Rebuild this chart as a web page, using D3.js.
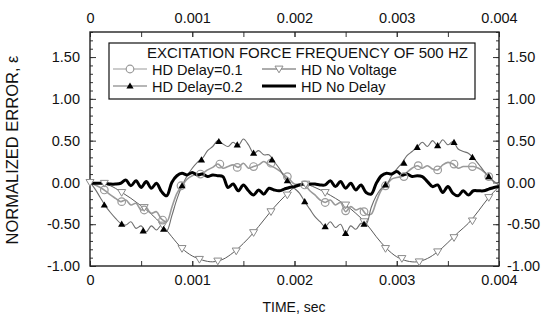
<!DOCTYPE html>
<html><head><meta charset="utf-8">
<script src="https://cdn.jsdelivr.net/npm/d3@7"></script>
<style>
html,body{margin:0;padding:0;background:#fff;}
svg{display:block;font-family:"Liberation Sans",Arial,sans-serif;}
</style></head>
<body><svg id="c" width="542" height="320"></svg>
<script>
// ---------- data (time in seconds, error values) ----------
const xTickValues = [0, 0.001, 0.002, 0.003, 0.004];
const xTickLabels = ["0", "0.001", "0.002", "0.003", "0.004"];
const yTickValues = [-1, -0.5, 0, 0.5, 1, 1.5];
const yTickLabels = ["-1.00", "-0.50", "0.00", "0.50", "1.00", "1.50"];

// fine time grid, 0.05 ms step (81 points)
const timeFine = d3.range(0, 81).map(i => i * 0.00005);
// coarse time grid, 0.1 ms step (41 points)
const timeCoarse = d3.range(0, 41).map(i => i * 0.0001);

const noDelay = [-0.01,-0.01,-0.01,-0.01,-0.02,-0.02,-0.01,0.03,-0.04,0.02,-0.06,0.01,-0.07,-0.01,-0.11,-0.16,0.00,0.08,0.11,0.09,0.12,0.09,0.10,0.07,0.09,0.08,0.07,-0.06,-0.02,-0.10,-0.03,-0.10,-0.15,-0.09,-0.14,-0.07,-0.09,-0.10,-0.08,-0.06,-0.05,
  -0.03,-0.02,-0.02,-0.02,-0.03,-0.03,0.02,-0.05,0.01,-0.07,-0.01,-0.09,-0.03,-0.12,-0.14,-0.01,0.08,0.11,0.10,0.13,0.09,0.10,0.07,0.08,0.07,0.01,-0.05,-0.03,-0.12,-0.05,-0.13,-0.16,-0.10,-0.15,-0.10,-0.10,-0.10,-0.08,-0.06,-0.05];

const delay02 = [0.00,-0.08,-0.18,-0.28,-0.36,-0.43,-0.49,-0.51,-0.47,-0.55,-0.52,-0.59,-0.52,-0.57,-0.51,-0.58,-0.40,-0.20,-0.04,0.08,0.17,0.24,0.29,0.38,0.43,0.50,0.46,0.43,0.48,0.44,0.52,0.45,0.35,0.38,0.33,0.33,0.25,0.17,0.07,0.00,-0.07,
  -0.13,-0.23,-0.32,-0.41,-0.47,-0.53,-0.47,-0.54,-0.50,-0.61,-0.52,-0.56,-0.49,-0.50,-0.30,-0.16,-0.07,-0.03,0.08,0.16,0.23,0.32,0.37,0.42,0.48,0.43,0.50,0.44,0.51,0.45,0.49,0.40,0.37,0.35,0.29,0.22,0.14,0.07,0.01,-0.03];

const delay01 = [0.00,-0.03,-0.06,-0.10,-0.15,-0.19,-0.23,-0.21,-0.27,-0.25,-0.33,-0.31,-0.37,-0.35,-0.44,-0.47,-0.30,-0.13,-0.04,0.04,0.08,0.10,0.11,0.15,0.18,0.22,0.17,0.19,0.21,0.18,0.23,0.17,0.19,0.21,0.25,0.21,0.18,0.14,0.09,0.04,-0.02,
  -0.02,-0.03,-0.10,-0.15,-0.21,-0.24,-0.21,-0.27,-0.24,-0.35,-0.29,-0.33,-0.31,-0.38,-0.38,-0.23,-0.09,-0.03,0.04,0.06,0.07,0.12,0.17,0.20,0.17,0.20,0.16,0.15,0.21,0.24,0.22,0.17,0.19,0.19,0.19,0.17,0.13,0.07,0.01,-0.02];

const noVoltage = [0.00,-0.01,-0.04,-0.11,-0.19,-0.28,-0.38,-0.50,-0.65,-0.79,-0.88,-0.93,-0.95,-0.92,-0.84,-0.73,-0.60,-0.45,-0.30,-0.17,-0.06,
  -0.02,-0.06,-0.12,-0.19,-0.27,-0.37,-0.49,-0.65,-0.79,-0.89,-0.94,-0.95,-0.91,-0.83,-0.72,-0.60,-0.49,-0.34,-0.18,-0.05];

// marker positions (ms) and values
const markT01 = [0.14,0.31,0.53,0.71,0.89,1.08,1.27,1.44,1.60,1.77,1.93,2.10,2.30,2.50,2.68,2.89,3.07,3.21,3.40,3.56,3.74,3.90];
const markV01 = [-0.09,-0.23,-0.33,-0.45,-0.04,0.10,0.22,0.18,0.19,0.23,0.07,-0.03,-0.24,-0.34,-0.35,-0.04,0.07,0.20,0.15,0.22,0.19,0.07];
const markT02 = [0.14,0.31,0.52,0.72,0.90,1.09,1.26,1.44,1.60,1.78,1.93,2.10,2.30,2.50,2.68,2.89,3.07,3.20,3.40,3.56,3.74,3.90];
const markV02 = [-0.27,-0.50,-0.58,-0.56,-0.04,0.27,0.49,0.45,0.35,0.27,0.02,-0.23,-0.53,-0.61,-0.50,-0.03,0.23,0.42,0.44,0.48,0.30,0.07];
const markTNV = [0,0.14,0.31,0.53,0.71,0.90,1.07,1.25,1.43,1.60,1.77,1.93,2.11,2.30,2.50,2.68,2.89,3.05,3.22,3.40,3.56,3.74,3.90];
const markVNV = [0,-0.01,-0.12,-0.30,-0.51,-0.79,-0.92,-0.94,-0.82,-0.60,-0.35,-0.15,-0.02,-0.12,-0.27,-0.47,-0.79,-0.91,-0.95,-0.83,-0.66,-0.46,-0.18];

const legendTitle = "EXCITATION FORCE FREQUENCY OF 500 HZ";
const seriesNames = ["HD Delay=0.1", "HD Delay=0.2", "HD No Voltage", "HD No Delay"];

// ---------- drawing ----------
const svg = d3.select("#c");
const FONT = '"Liberation Sans", Arial, sans-serif';
const x = d3.scaleLinear().domain([0, 0.004]).range([90, 499]);
const y = d3.scaleLinear().domain([-1, 1.8]).range([266, 32]);

// axes
function styleAxis(g) {
  g.select(".domain").remove();
  g.selectAll("line").attr("stroke", "#333").attr("stroke-width", 1);
  g.selectAll("text").attr("font-family", FONT).attr("font-size", 14.5).attr("fill", "#111");
}
const xMinor = d3.range(0, 9).map(i => i * 0.0005);
const yMinor = d3.range(-10, 19).map(i => i / 10);

svg.append("g").attr("transform", "translate(0,266)")
  .call(d3.axisBottom(x).tickValues(xMinor).tickSize(-5).tickFormat(""))
  .call(styleAxis);
svg.append("g").attr("transform", "translate(0,266)")
  .call(d3.axisBottom(x).tickValues(xTickValues).tickSize(-5).tickPadding(9)
    .tickFormat((d, i) => xTickLabels[i]))
  .call(styleAxis);
svg.append("g").attr("transform", "translate(0,32)")
  .call(d3.axisTop(x).tickValues(xMinor).tickSize(-5).tickFormat(""))
  .call(styleAxis);
svg.append("g").attr("transform", "translate(0,32)")
  .call(d3.axisTop(x).tickValues(xTickValues).tickSize(-5).tickPadding(9)
    .tickFormat((d, i) => xTickLabels[i]))
  .call(styleAxis);

svg.append("g").attr("transform", "translate(90,0)")
  .call(d3.axisLeft(y).tickValues(yMinor).tickSize(-3).tickFormat(""))
  .call(styleAxis);
svg.append("g").attr("transform", "translate(90,0)")
  .call(d3.axisLeft(y).tickValues(yTickValues).tickSize(-6).tickPadding(10)
    .tickFormat((d, i) => yTickLabels[i]))
  .call(styleAxis);
svg.append("g").attr("transform", "translate(499,0)")
  .call(d3.axisRight(y).tickValues(yMinor).tickSize(-3).tickFormat(""))
  .call(styleAxis);
svg.append("g").attr("transform", "translate(499,0)")
  .call(d3.axisRight(y).tickValues(yTickValues).tickSize(-6).tickPadding(8)
    .tickFormat((d, i) => yTickLabels[i]))
  .call(styleAxis);

// frame
svg.append("rect").attr("x", x(0)).attr("y", y(1.8))
  .attr("width", x(0.004) - x(0)).attr("height", y(-1) - y(1.8))
  .attr("fill", "none").attr("stroke", "#222").attr("stroke-width", 1.4);

// axis titles
svg.append("text").attr("transform", "translate(18,150) rotate(-90)")
  .attr("text-anchor", "middle").attr("font-size", 16.5).attr("fill", "#111")
  .text("NORMALIZED ERROR, ε");
svg.append("text").attr("x", 294).attr("y", 312)
  .attr("text-anchor", "middle").attr("font-size", 14).attr("fill", "#111")
  .text("TIME, sec");

// lines
const line = d3.line().x(d => x(d[0])).y(d => y(d[1])).curve(d3.curveCatmullRom.alpha(0.5));
const zip = (ts, vs) => ts.map((t, i) => [t, vs[i]]);
const zipMs = (ts, vs) => ts.map((t, i) => [t / 1000, vs[i]]);

const plot = svg.append("g");
plot.append("path").attr("d", line(zip(timeCoarse, noVoltage)))
  .attr("fill", "none").attr("stroke", "#5a5a5a").attr("stroke-width", 1);
plot.append("path").attr("d", line(zip(timeFine, delay01)))
  .attr("fill", "none").attr("stroke", "#9a9a9a").attr("stroke-width", 1.6);
plot.append("path").attr("d", line(zip(timeFine, delay02)))
  .attr("fill", "none").attr("stroke", "#6e6e6e").attr("stroke-width", 1.1);
plot.append("path").attr("d", line(zip(timeFine, noDelay)))
  .attr("fill", "none").attr("stroke", "#000").attr("stroke-width", 3).attr("stroke-linejoin", "round");

// marker shapes
const triUp = "M0,-3.6L3.6,2.6L-3.6,2.6Z";
const triDown = "M0,3.8L4,-2.9L-4,-2.9Z";

plot.selectAll(".mnv").data(zipMs(markTNV, markVNV)).join("path")
  .attr("transform", d => `translate(${x(d[0])},${y(d[1])})`)
  .attr("d", triDown).attr("fill", "#fff").attr("stroke", "#8a8a8a").attr("stroke-width", 1);
plot.selectAll(".m01").data(zipMs(markT01, markV01)).join("circle")
  .attr("cx", d => x(d[0])).attr("cy", d => y(d[1])).attr("r", 3.8)
  .attr("fill", "none").attr("stroke", "#9a9a9a").attr("stroke-width", 1.2);
plot.selectAll(".m02").data(zipMs(markT02, markV02)).join("path")
  .attr("transform", d => `translate(${x(d[0])},${y(d[1])})`)
  .attr("d", triUp).attr("fill", "#000");

// legend
const lg = svg.append("g");
lg.append("rect").attr("x", 109).attr("y", 43).attr("width", 366).attr("height", 56)
  .attr("fill", "#fff").attr("stroke", "#111").attr("stroke-width", 1.2);
lg.append("text").attr("x", 147).attr("y", 57.5).attr("font-size", 15).attr("fill", "#111")
  .text(legendTitle);
const items = [
  {name: seriesNames[0], lx: 113, ly: 69, stroke: "#9a9a9a", w: 1.2, mk: "circle"},
  {name: seriesNames[1], lx: 113, ly: 86, stroke: "#6e6e6e", w: 1.1, mk: "up"},
  {name: seriesNames[2], lx: 262, ly: 69, stroke: "#5a5a5a", w: 1, mk: "down"},
  {name: seriesNames[3], lx: 262, ly: 86, stroke: "#000", w: 3, mk: null}
];
items.forEach(it => {
  lg.append("line").attr("x1", it.lx).attr("x2", it.lx + 34).attr("y1", it.ly).attr("y2", it.ly)
    .attr("stroke", it.stroke).attr("stroke-width", it.w);
  const cx = it.lx + 17;
  if (it.mk === "circle") lg.append("circle").attr("cx", cx).attr("cy", it.ly).attr("r", 3.8)
    .attr("fill", "#fff").attr("stroke", "#9a9a9a").attr("stroke-width", 1.2);
  if (it.mk === "up") lg.append("path").attr("transform", `translate(${cx},${it.ly})`).attr("d", triUp).attr("fill", "#000");
  if (it.mk === "down") lg.append("path").attr("transform", `translate(${cx},${it.ly})`).attr("d", triDown)
    .attr("fill", "#fff").attr("stroke", "#8a8a8a");
  lg.append("text").attr("x", it.lx + 39).attr("y", it.ly + 5.5).attr("font-size", 14.5).attr("fill", "#111")
    .text(it.name);
});
</script></body></html>
